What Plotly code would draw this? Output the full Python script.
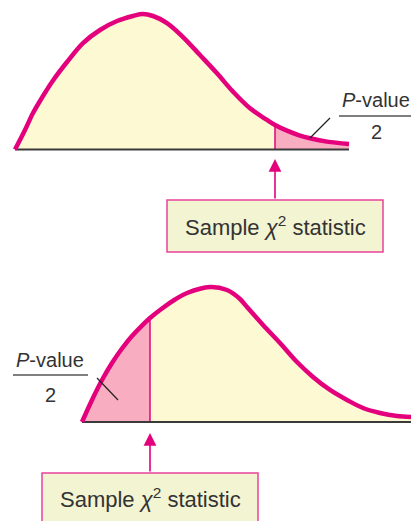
import plotly.graph_objects as go

# Upper tail: chi-square values and density heights
upper_chi2 = [0.0, 0.5, 0.9, 1.4, 1.9, 2.6, 3.4, 4.25, 5.1, 5.9, 6.4, 6.9, 7.6, 8.4, 9.25,
              10.1, 10.9, 11.75, 12.6, 13.0, 13.6, 14.25, 14.75, 15.6, 16.7]
upper_density = [0.0, 0.0244, 0.0456, 0.0669, 0.0863, 0.1094, 0.1331, 0.1494, 0.1606, 0.1669,
                 0.1694, 0.1669, 0.1581, 0.1406, 0.1181, 0.0953, 0.0723, 0.0515, 0.0369,
                 0.0306, 0.0235, 0.0173, 0.014, 0.0098, 0.0069]
upper_stat = 13.0

# Lower tail
lower_chi2 = [0.0, 0.5, 1.0, 1.5, 2.0, 2.5, 3.0, 3.4, 4.0, 4.65, 5.25, 6.4, 7.25, 7.9, 8.25,
              9.05, 9.9, 10.75, 11.55, 12.4, 13.25, 14.05, 14.9, 15.75, 16.45]
lower_density = [0.0, 0.0275, 0.0525, 0.0738, 0.0919, 0.1075, 0.1206, 0.13, 0.1419, 0.1531,
                 0.1613, 0.1688, 0.165, 0.1538, 0.1438, 0.1213, 0.0988, 0.075, 0.0563, 0.04,
                 0.0275, 0.0175, 0.0113, 0.0075, 0.0063]
lower_stat = 3.4

box_label = "Sample <i>χ</i><sup>2</sup> statistic"
pvalue_label = "<i>P</i>-value"

MAGENTA = "#e4007c"
CREAM = "#fdf9d2"
PINK = "#f8adc0"
BOX_FILL = "#f2f4d2"
BOX_LINE = "#e8439a"
TEXT = "#333333"
FONT = "Liberation Sans, Arial, sans-serif"


def add_panel(fig, chi2, density, stat, tail, xref, yref):
    common = dict(xaxis=xref, yaxis=yref, hoverinfo="skip", showlegend=False)

    fig.add_trace(go.Scatter(x=chi2, y=density, mode="lines", fill="tozeroy", fillcolor=CREAM,
                             line=dict(width=0, shape="spline"), **common))

    if tail == "right":
        idx = [i for i, v in enumerate(chi2) if v >= stat]
    else:
        idx = [i for i, v in enumerate(chi2) if v <= stat]
    fig.add_trace(go.Scatter(x=[chi2[i] for i in idx], y=[density[i] for i in idx],
                             mode="lines", fill="tozeroy", fillcolor=PINK,
                             line=dict(width=0, shape="spline"), **common))

    stat_height = density[chi2.index(stat)]
    fig.add_trace(go.Scatter(x=[stat, stat], y=[0, stat_height], mode="lines",
                             line=dict(color=MAGENTA, width=1.5), **common))
    fig.add_trace(go.Scatter(x=[chi2[0], chi2[-1]], y=[0, 0], mode="lines",
                             line=dict(color="#3a3a3a", width=2), **common))
    fig.add_trace(go.Scatter(x=chi2, y=density, mode="lines",
                             line=dict(color=MAGENTA, width=4.5, shape="spline"), **common))


fig = go.Figure()
add_panel(fig, upper_chi2, upper_density, upper_stat, "right", "x", "y")
add_panel(fig, lower_chi2, lower_density, lower_stat, "left", "x2", "y2")

# boxes with arrows pointing at the statistic
for stat, xr, yr, top, bottom, text_y, tip in [
        (upper_stat, "x", "y", -0.0631, -0.1281, -0.0956, -0.0119),
        (lower_stat, "x2", "y2", -0.0638, -0.129, -0.0955, -0.0138)]:
    fig.add_shape(type="rect", xref=xr, yref=yr, x0=stat - 5.4, x1=stat + 5.4, y0=bottom, y1=top,
                  fillcolor=BOX_FILL, line=dict(color=BOX_LINE, width=1.5), layer="above")
    fig.add_annotation(xref=xr, yref=yr, x=stat, y=text_y, text=box_label, showarrow=False,
                       font=dict(family=FONT, size=22, color=TEXT))
    fig.add_annotation(xref=xr, yref=yr, axref=xr, ayref=yr, x=stat, y=tip, ax=stat, ay=top,
                       text="", showarrow=True, arrowhead=2, arrowsize=1.6, arrowwidth=1.6,
                       arrowcolor=MAGENTA, standoff=0)

# P-value / 2 labels with leader lines
for xr, yr, cx, y_num, y_den, bar, leader in [
        ("x", "y", 18.05, 0.0619, 0.0219, ([16.2, 19.8], 0.0419), ([15.75, 14.75], [0.0394, 0.0144])),
        ("x2", "y2", -1.6, 0.0775, 0.0338, ([-3.45, 0.3], 0.0588), ([0.75, 1.8], [0.055, 0.0275]))]:
    fig.add_annotation(xref=xr, yref=yr, x=cx, y=y_num, text=pvalue_label, showarrow=False,
                       font=dict(family=FONT, size=20, color=TEXT))
    fig.add_annotation(xref=xr, yref=yr, x=cx, y=y_den, text="2", showarrow=False,
                       font=dict(family=FONT, size=20, color=TEXT))
    fig.add_trace(go.Scatter(x=bar[0], y=[bar[1], bar[1]], mode="lines", xaxis=xr, yaxis=yr,
                             line=dict(color="#555555", width=1.5), hoverinfo="skip", showlegend=False))
    fig.add_trace(go.Scatter(x=leader[0], y=leader[1], mode="lines", xaxis=xr, yaxis=yr,
                             line=dict(color="#222222", width=1.2), hoverinfo="skip", showlegend=False))

fig.update_layout(
    width=411, height=521, margin=dict(l=0, r=0, t=0, b=0),
    paper_bgcolor="white", plot_bgcolor="white", showlegend=False,
    xaxis=dict(domain=[0, 1], range=[-0.75, 19.8], visible=False, anchor="y"),
    yaxis=dict(domain=[0.5, 1], range=[-0.1388, 0.1869], visible=False, anchor="x"),
    xaxis2=dict(domain=[0, 1], range=[-4.1, 16.45], visible=False, anchor="y2"),
    yaxis2=dict(domain=[0, 0.5], range=[-0.1238, 0.2019], visible=False, anchor="x2"),
)

# page body has a default 8px margin; drop it so the figure fills the window
fig.write_html("out.html", config={"displayModeBar": False},
               post_script="document.body.style.margin='0';")
